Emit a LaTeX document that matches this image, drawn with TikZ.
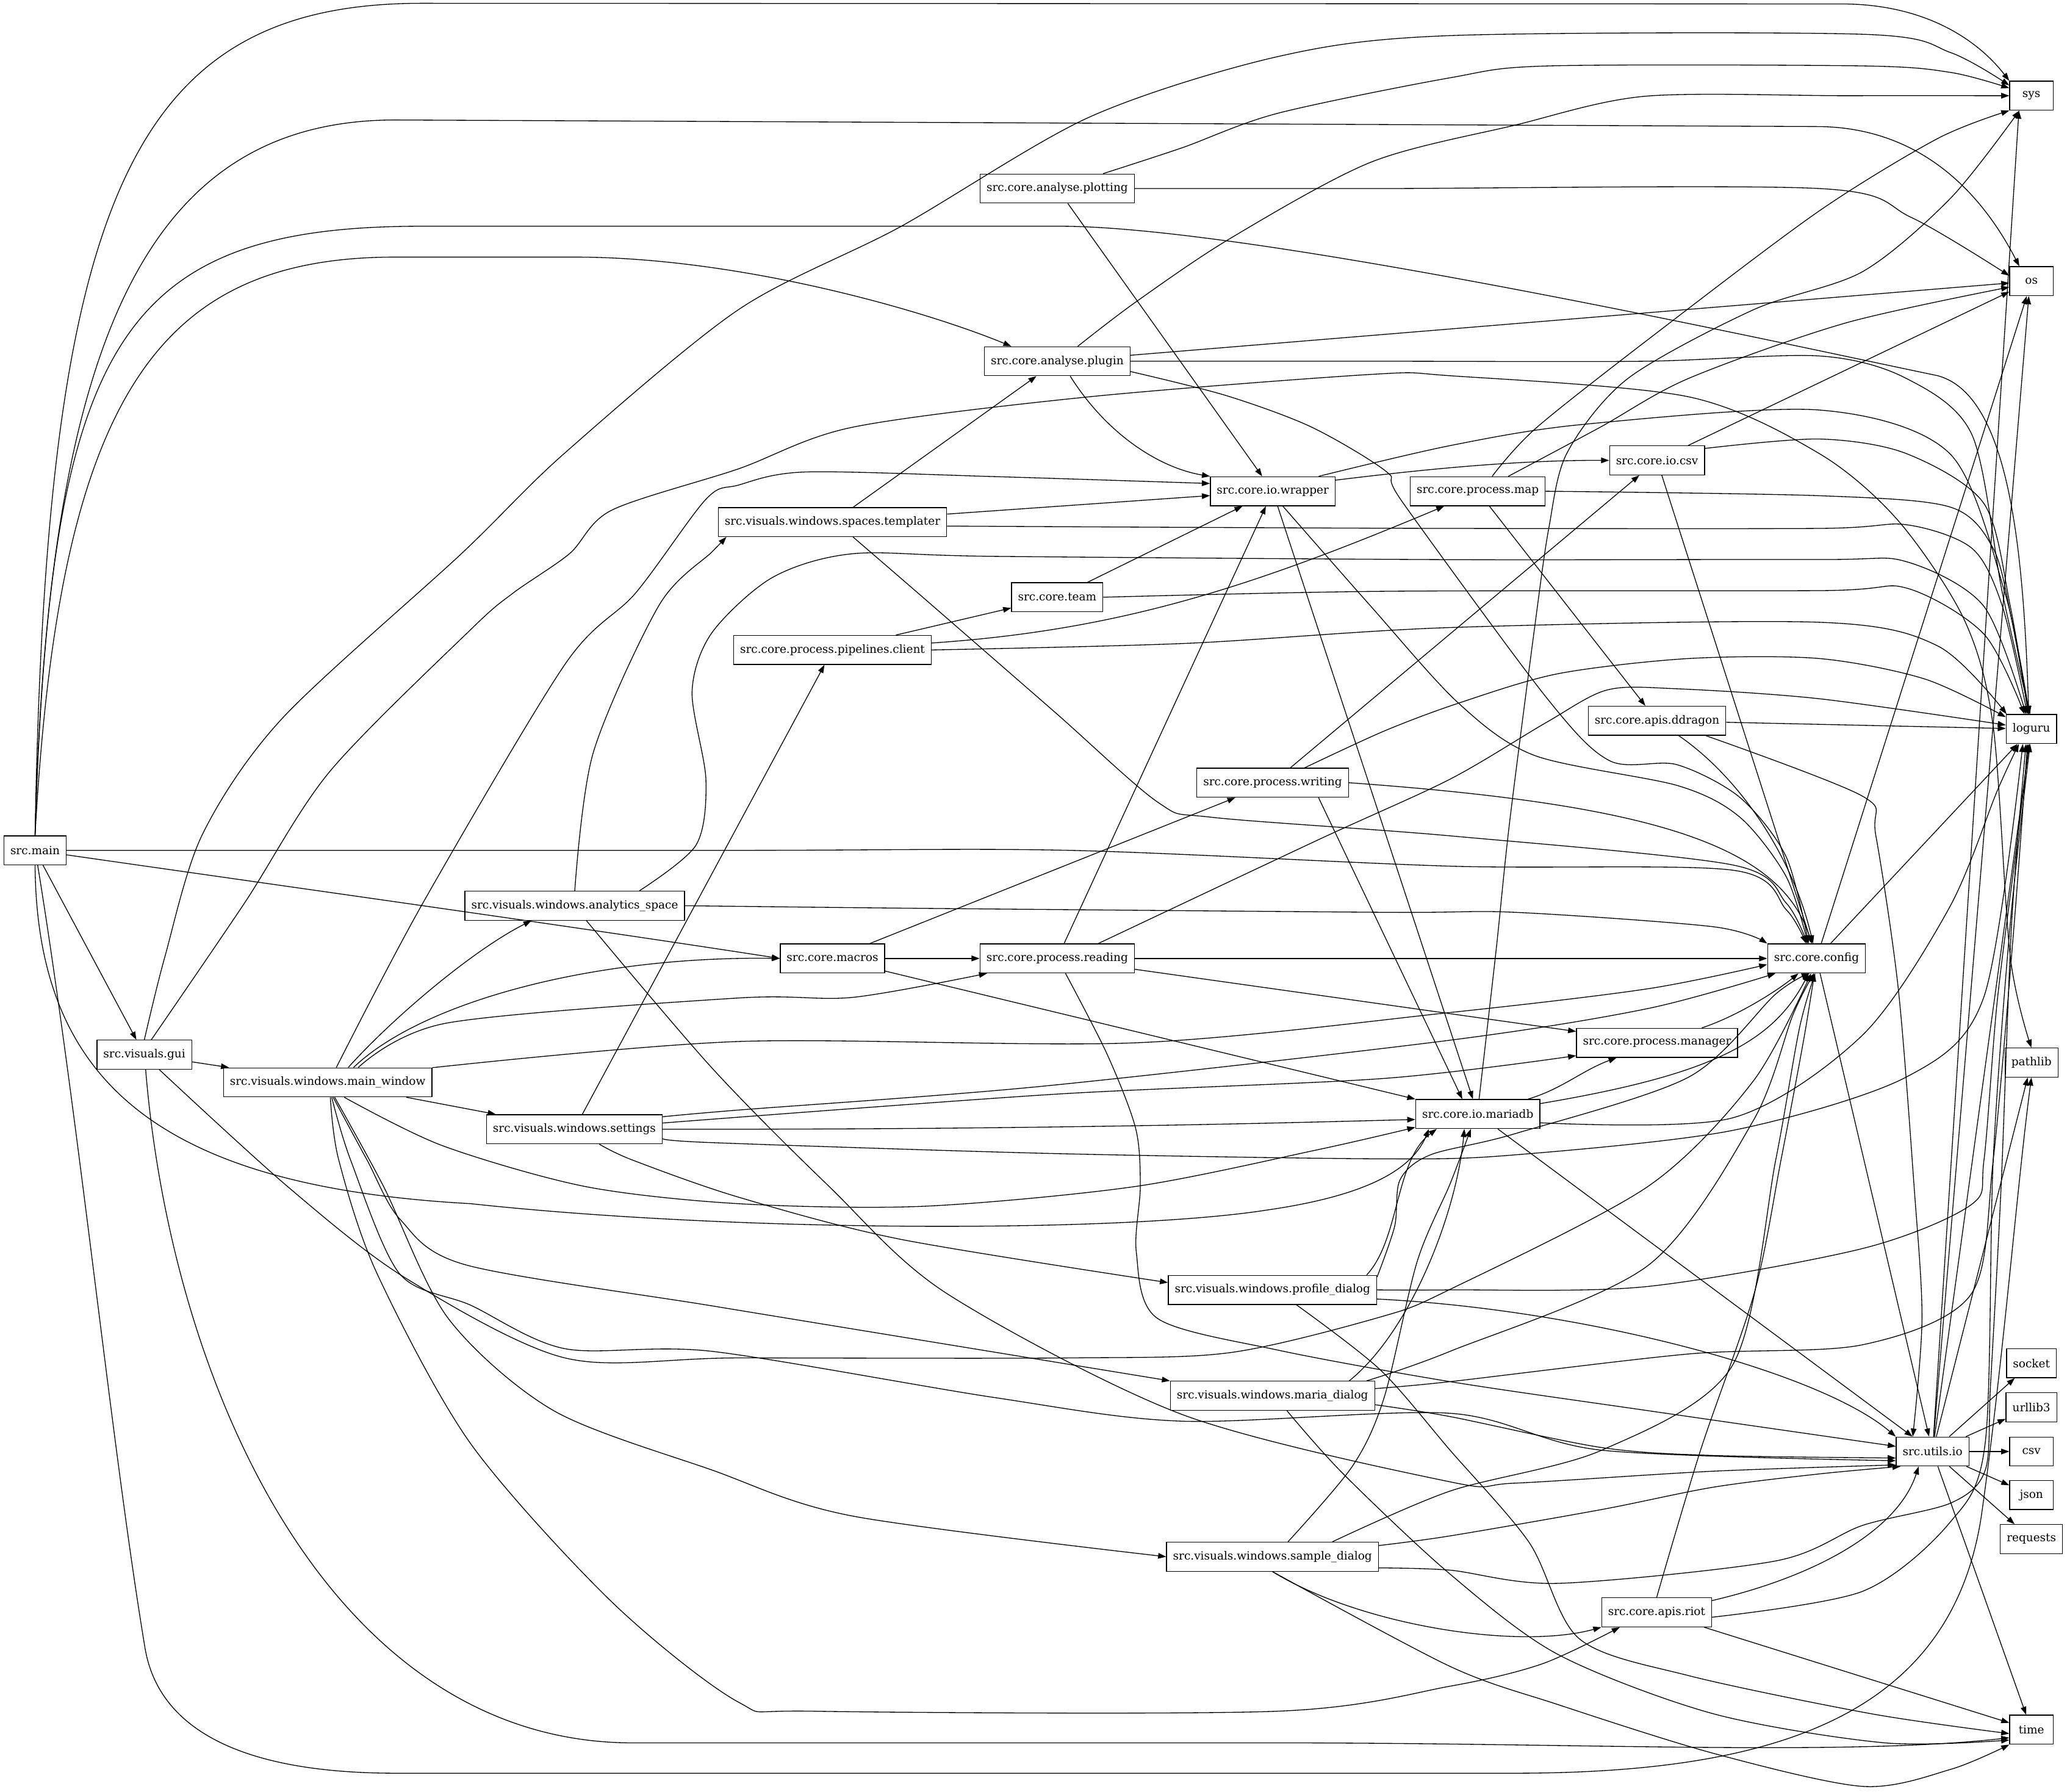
\documentclass[tikz,border=0pt]{standalone}
\usepackage{fontspec}
\setmainfont{DejaVu Serif}
\usetikzlibrary{arrows.meta}

\begin{document}
\begin{tikzpicture}[x=1.636pt, y=-1.636pt,
    every node/.style={draw, rectangle, line width=1pt, minimum width=54pt, minimum height=36pt,
      inner xsep=8pt, inner ysep=2pt, font=\fontsize{14pt}{16pt}\selectfont},
    imp/.style={line width=1pt, -{Triangle[length=10pt, width=7pt]}}]
  \useasboundingbox (0,0) rectangle (1568,1359);

  \node (sys) at (1541,72.6) {sys};
  \node (os) at (1541,213.3) {os};
  \node (loguru) at (1541,553) {loguru};
  \node (pathlib) at (1541,806) {pathlib};
  \node (socket) at (1541,1034) {socket};
  \node (urllib3) at (1541,1067.5) {urllib3};
  \node (csv) at (1541,1101) {csv};
  \node (json) at (1541,1134) {json};
  \node (requests) at (1541,1167.4) {requests};
  \node (time) at (1541,1312) {time};
  \node (main) at (26.6,645) {src.main};
  \node (gui) at (109.5,800) {src.visuals.gui};
  \node (mainwin) at (248.6,821) {src.visuals.windows.main\_window};
  \node (analytics) at (436,687) {src.visuals.windows.analytics\_space};
  \node (settings) at (435.7,856.5) {src.visuals.windows.settings};
  \node (macros) at (631.5,727) {src.core.macros};
  \node (reading) at (802,727) {src.core.process.reading};
  \node (plotting) at (802,143) {src.core.analyse.plotting};
  \node (plugin) at (802,274) {src.core.analyse.plugin};
  \node (templater) at (631.5,396) {src.visuals.windows.spaces.templater};
  \node (client) at (631.5,493) {src.core.process.pipelines.client};
  \node (team) at (802,453) {src.core.team};
  \node (wrapper) at (965.5,372.6) {src.core.io.wrapper};
  \node (writing) at (965.4,593.7) {src.core.process.writing};
  \node (map) at (1121,372.6) {src.core.process.map};
  \node (iocsv) at (1257,349.2) {src.core.io.csv};
  \node (ddragon) at (1257,546.7) {src.core.apis.ddragon};
  \node (config) at (1378,727) {src.core.config};
  \node (manager) at (1257,791) {src.core.process.manager};
  \node (mariadb) at (1121,845) {src.core.io.mariadb};
  \node (profile) at (965.3,978.4) {src.visuals.windows.profile\_dialog};
  \node (maria) at (965.3,1058.7) {src.visuals.windows.maria\_dialog};
  \node (sample) at (965.3,1180.8) {src.visuals.windows.sample\_dialog};
  \node (utils) at (1466,1101) {src.utils.io};
  \node (riot) at (1256.7,1223) {src.core.apis.riot};

  \draw[imp] (main.north) .. controls (35,150) and (100,2.5) .. (320,2.5) -- (1397,3) .. controls (1460,3) and (1500,30) .. (sys.north west);
  \draw[imp] (main.north) .. controls (36,260) and (110,91) .. (300,91) -- (1380,96) .. controls (1460,97) and (1505,150) .. (os.129);
  \draw[imp] (main.north) .. controls (38,260) and (90,171.6) .. (320,171.6) -- (804,171.6) .. controls (950,171.6) and (1350,260) .. (1470,285) .. controls (1525,300) and (1535,420) .. (loguru.100);
  \draw[imp] (main.north) .. controls (45,300) and (120,195) .. (300,195) -- (435.5,195) .. controls (560,195) and (700,235) .. (plugin.162);
  \draw[imp] plot[smooth, tension=.5] coordinates {(main.east) (560,645) (811,645) (1100,657) (1314,660) (1355,690) (config.125)};
  \draw[imp] (main) .. controls (250,677) and (450,705) .. (macros.west);
  \draw[imp] (main) -- (gui);
  \draw[imp] (main.south) .. controls (28,820) and (120,900) .. (357,913) .. controls (560,935) and (850,935) .. (960,918) .. controls (1030,908) and (1070,890) .. (mariadb.197);
  \draw[imp] (main.-80) .. controls (60,850) and (85,1100) .. (110,1250) .. controls (120,1310) and (180,1345) .. (300,1345) -- (1149,1345) .. controls (1350,1345) and (1480,1300) .. (1503,1150) .. controls (1520,1030) and (1530,900) .. (pathlib.south);

  \draw[imp] (gui) -- (mainwin);
  \draw[imp] (gui.-85) .. controls (130,1050) and (250,1322) .. (480,1322) -- (969,1322) .. controls (1200,1322) and (1400,1332) .. (time.200);
  \draw[imp] plot[smooth, tension=.5] coordinates {(gui.-45) (217.8,899.7) (307,969) (428.5,1030) (560,1030) (811,1030) (933,1026) (1047,999) (1100,978) (1250,900) (1330,820) (config.-110)};
  \draw[imp] plot[smooth, tension=.5] coordinates {(gui.north) (125,726) (153.5,633) (214,545) (350,420) (428,344) (560,235) (683,172) (826,89) (969,43) (1100,27) (1413,26) (1480,40) (sys.155)};
  \draw[imp] plot[smooth, tension=.5] coordinates {(gui.65) (185.6,684.8) (250,585.4) (357,477.6) (389,450) (432,420) (464,387) (560,355.7) (647,324) (826,301) (1040,284) (1100,285) (1281,301) (1380,344) (1440,395) (1490,470) (1512,551) (1525,726) (pathlib.north)};

  \draw[imp] (mainwin.36) .. controls (300,770) and (360,720) .. (analytics.199);
  \draw[imp] (mainwin.30) .. controls (320,760) and (450,725) .. (macros.west);
  \draw[imp] plot[smooth, tension=.5] coordinates {(mainwin.26) (339,776) (560,757) (647,756.5) (reading.192)};
  \draw[imp] plot[smooth, tension=.5] coordinates {(mainwin.8) (560,790) (861,791) (1100,768) (1250,750) (config.187)};
  \draw[imp] (mainwin) -- (settings);
  \draw[imp] plot[smooth, tension=.5] coordinates {(mainwin.60) (321,684.6) (428.5,504) (482,450) (535.5,378.7) (560,368) (611,358) (754,361.5) (wrapper.173)};
  \draw[imp] plot[smooth, tension=.5] coordinates {(mainwin.-42) (335.6,869) (444,900) (560,913) (700,915) (861,900) (1000,872) (mariadb.192)};
  \draw[imp] plot[smooth, tension=.5] coordinates {(mainwin.-70) (278.5,880) (303.6,925) (353.6,959.5) (540,990.5) (720,1020) (maria.north west)};
  \draw[imp] plot[smooth, tension=.5] coordinates {(mainwin.-65) (291,900) (340,1000) (420,1070) (540,1115) (647,1150) (sample.west)};
  \draw[imp] plot[smooth, tension=.5] coordinates {(mainwin.-75) (266,880) (303,966) (357,990) (428.5,1023) (540,1025) (754,1060) (897,1078) (1100,1072) (1215,1100) (utils.194)};
  \draw[imp] plot[smooth, tension=.5] coordinates {(mainwin.-80) (257,880) (286,966) (357,1095) (464,1215) (560,1291) (618.6,1298) (968.6,1298) (1100,1279) (1170,1262) (riot.202)};

  \draw[imp] plot[smooth, tension=.5] coordinates {(analytics.east) (700,689) (1050,692) (1149,692) (1300,703) (config.north west)};
  \draw[imp] plot[smooth, tension=.5] coordinates {(analytics.13) (528,641) (535.5,591.5) (525,524.5) (540,480) (586,438) (647,420) (754,422) (1100,424.5) (1380,424.4) (1446,426) (1505,460) (loguru.110)};
  \draw[imp] plot[smooth, tension=.5] coordinates {(analytics.north) (450,571) (500,459) (540,418.7) (templater.188)};
  \draw[imp] plot[smooth, tension=.5] coordinates {(analytics.-52) (540,810) (629,900) (718,981) (897,1073) (1100,1124) (1149,1125) (1298,1116) (utils.200)};

  \draw[imp] (settings) -- (client);
  \draw[imp] plot[smooth, tension=.5] coordinates {(settings.8) (560,842) (790,824) (1100,789) (1250,765) (config.200)};
  \draw[imp] plot[smooth, tension=.5] coordinates {(settings.4) (800,830) (1050,818) (manager.189)};
  \draw[imp] (settings.east) .. controls (800,857) and (1000,851) .. (mariadb.185);
  \draw[imp] plot[smooth, tension=.5] coordinates {(settings.-6) (540,866.7) (800,875) (1050,879) (1149,876) (1314,857.5) (1446,817) (1505,756) (loguru.-120)};
  \draw[imp] plot[smooth, tension=.5] coordinates {(settings.-31) (480,880) (560,908) (683,940) (profile.176)};

  \draw[imp] (macros) -- (reading);
  \draw[imp] (macros) -- (writing);
  \draw[imp] (macros) -- (mariadb);

  \draw[imp] (reading) -- (wrapper);
  \draw[imp] plot[smooth, tension=.5] coordinates {(reading.20) (1000,637) (1100,591) (1173,548) (1219,523.4) (1271,522.4) (1380,530) (loguru.171)};
  \draw[imp] (reading) -- (config);
  \draw[imp] (reading) -- (manager);
  \draw[imp] plot[smooth, tension=.5] coordinates {(reading.-61) (840,800) (861.5,856) (865,900) (862,950) (878,1000) (969,1024) (1100,1048) (1250,1070) (utils.172)};

  \draw[imp] plot[smooth, tension=.5] coordinates {(plotting.18) (897,112) (969,86) (1100,59) (1175,50) (1413,50) (1480,55) (sys.161)};
  \draw[imp] plot[smooth, tension=.5] coordinates {(plotting.east) (1050,143) (1380,143) (1450,165) (os.166)};
  \draw[imp] (plotting) -- (wrapper);

  \draw[imp] plot[smooth, tension=.5] coordinates {(plugin.36) (861,229.5) (933,181) (1040,123) (1149,95) (1248,73) (1400,72.6) (sys.west)};
  \draw[imp] (plugin) -- (os);
  \draw[imp] plot[smooth, tension=.5] coordinates {(plugin.east) (1050,274) (1248,274) (1380,270) (1446,287) (1496,330) (1519,450) (loguru.95)};
  \draw[imp] (plugin.-49) .. controls (840,330) and (880,355) .. (wrapper.north west);
  \draw[imp] plot[smooth, tension=.5] coordinates {(plugin.-8) (930,300) (995,324) (1052,358) (1064,381) (1173,529) (1221,577) (1272,580) (1320,605) (1355,650) (config.118)};

  \draw[imp] (templater) -- (plugin);
  \draw[imp] (templater) -- (wrapper);
  \draw[imp] plot[smooth, tension=.5] coordinates {(templater.-2) (900,400) (1100,400.8) (1380,400.8) (1446,398) (1496,416) (1519,460) (loguru.105)};
  \draw[imp] plot[smooth, tension=.5] coordinates {(templater.-36) (700,453) (800,540) (879,609) (920,620) (1100,634) (1314,656) (1355,685) (config.122)};

  \draw[imp] (client) -- (team);
  \draw[imp] (client.4) .. controls (850,478) and (950,445) .. (map.204);
  \draw[imp] plot[smooth, tension=.5] coordinates {(client.east) (900,488) (1100,476) (1380,472) (1470,490) (loguru.149)};

  \draw[imp] (team) -- (wrapper);
  \draw[imp] plot[smooth, tension=.5] coordinates {(team.east) (1050,448.5) (1380,448) (1446,446) (1505,481) (loguru.115)};

  \draw[imp] (wrapper.10) .. controls (1080,356) and (1150,349) .. (iocsv.west);
  \draw[imp] plot[smooth, tension=.5] coordinates {(wrapper.18) (1100,338) (1200,322) (1380,311) (1479,344) (1521,450) (loguru.98)};
  \draw[imp] (wrapper) -- (mariadb);
  \draw[imp] plot[smooth, tension=.5] coordinates {(wrapper.-56) (1040,460) (1106,533) (1164,573) (1273,596) (1320,620) (1355,665) (config.120)};

  \draw[imp] plot[smooth, tension=.5] coordinates {(map.46) (1166,324) (1260,250) (1380,160) (1470,105) (sys.south west)};
  \draw[imp] plot[smooth, tension=.5] coordinates {(map.26) (1214,324) (1281,287) (1400,245) (os.195)};
  \draw[imp] plot[smooth, tension=.5] coordinates {(map.east) (1380,376) (1479,384.5) (1512,416) (1526,470) (loguru.100)};
  \draw[imp] (map) -- (ddragon);

  \draw[imp] (iocsv) -- (os);
  \draw[imp] plot[smooth, tension=.5] coordinates {(iocsv.14) (1380,333) (1446,344) (1505,382) (1525,460) (loguru.102)};
  \draw[imp] (iocsv) -- (config);

  \draw[imp] (ddragon) -- (loguru);
  \draw[imp] (ddragon) .. controls (1320,590) and (1360,650) .. (config);
  \draw[imp] plot[smooth, tension=.5] coordinates {(ddragon.-17) (1413,604) (1423,634) (1440,750) (1452,900) (1458,1000) (utils.143)};

  \draw[imp] (writing) -- (iocsv);
  \draw[imp] plot[smooth, tension=.5] coordinates {(writing.25) (1050,554.5) (1106,533.5) (1182,511) (1281,499.5) (1380,499.5) (1460,515) (loguru.155)};
  \draw[imp] (writing.east) .. controls (1250,610) and (1350,640) .. (config);
  \draw[imp] (writing.-18) -- (mariadb.136);

  \draw[imp] (config) -- (os);
  \draw[imp] (config) -- (loguru);
  \draw[imp] (config) -- (utils);

  \draw[imp] (manager) .. controls (1320,770) and (1350,750) .. (config);

  \draw[imp] (mariadb) .. controls (1185,826) and (1200,812) .. (manager);
  \draw[imp] plot[smooth, tension=.5] coordinates {(mariadb.85) (1135,720) (1145,625) (1164,477) (1175,400) (1189,343) (1235,287) (1330,235) (1413,206) (1480,150) (sys.231)};
  \draw[imp] (mariadb) .. controls (1300,815) and (1345,790) .. (config);
  \draw[imp] plot[smooth, tension=.5] coordinates {(mariadb.-8) (1314,848) (1413,785) (1479,688) (1515,600) (loguru.-130)};
  \draw[imp] (mariadb) -- (utils);

  \draw[imp] (profile.9) .. controls (1062,940) and (1058,880) .. (mariadb.200);
  \draw[imp] plot[smooth, tension=.5] coordinates {(profile.7) (1058,930) (1062,895) (1085,876) (1149,860) (1281,817) (1347,754) (config.-115)};
  \draw[imp] plot[smooth, tension=.5] coordinates {(profile.east) (1100,978.4) (1248,976) (1413,947) (1495,914) (1505,880) (1515,760) (1530,640) (loguru.-100)};
  \draw[imp] (profile.-5) .. controls (1200,993) and (1380,1040) .. (utils.north west);
  \draw[imp] plot[smooth, tension=.5] coordinates {(profile.-32) (1047,1039) (1100,1100) (1160,1170) (1198,1243) (1281,1271) (1420,1300) (time.190)};

  \draw[imp] (maria.11) .. controls (1070,1010) and (1105,920) .. (mariadb.228);
  \draw[imp] plot[smooth, tension=.5] coordinates {(maria.9) (1100,1025) (1250,960) (1330,850) (1360,770) (config.-100)};
  \draw[imp] plot[smooth, tension=.5] coordinates {(maria.4) (1100,1048) (1281,1027) (1413,1020) (1495,982) (1512,880) (1528,700) (loguru.-105)};
  \draw[imp] plot[smooth, tension=.5] coordinates {(maria.-5) (1100,1074.5) (1215,1098) (1300,1104) (utils.190)};
  \draw[imp] plot[smooth, tension=.5] coordinates {(maria.-46) (1019,1118) (1100,1194) (1182,1255) (1300,1300) (1430,1322) (time.205)};

  \draw[imp] plot[smooth, tension=.5] coordinates {(sample.44) (1026,1112) (1050,1060) (1075,957) (1100,898) (mariadb.245)};
  \draw[imp] plot[smooth, tension=.5] coordinates {(sample.14) (1100,1131) (1215,1100) (1314,1036) (1347,880) (1365,780) (config.-95)};
  \draw[imp] plot[smooth, tension=.5] coordinates {(sample.6) (1100,1165) (1215,1145) (1300,1128) (1380,1118) (utils.205)};
  \draw[imp] plot[smooth, tension=.5] coordinates {(sample.-6) (1100,1191) (1182,1201) (1347,1184) (1413,1157) (1480,1140) (1506,1115) (1510,1050) (1518,900) (1526,700) (loguru.-110)};
  \draw[imp] (sample.south) .. controls (1030,1232) and (1150,1252) .. (riot.south west);
  \draw[imp] plot[smooth, tension=.5] coordinates {(sample.south) (1100,1264) (1182,1293) (1300,1330) (1413,1355) (1480,1342) (time.south west)};

  \draw[imp] plot[smooth, tension=.5] coordinates {(riot.north) (1290,1100) (1331,980) (1351,880) (1368,790) (config.-98)};
  \draw[imp] (riot.12) .. controls (1380,1195) and (1440,1160) .. (utils.227);
  \draw[imp] plot[smooth, tension=.5] coordinates {(riot.-5) (1413,1207) (1479,1155) (1506,1094) (1512,880) (1525,700) (loguru.-95)};
  \draw[imp] (riot) -- (time);

  \draw[imp] (utils) -- (sys.-130);
  \draw[imp] (utils) -- (os.-100);
  \draw[imp] (utils) -- (loguru);
  \draw[imp] (utils) -- (pathlib);
  \draw[imp] (utils) -- (socket);
  \draw[imp] (utils) -- (urllib3);
  \draw[imp] (utils) -- (csv);
  \draw[imp] (utils) -- (json);
  \draw[imp] (utils) -- (requests);
  \draw[imp] (utils) -- (time);
\end{tikzpicture}
\end{document}
